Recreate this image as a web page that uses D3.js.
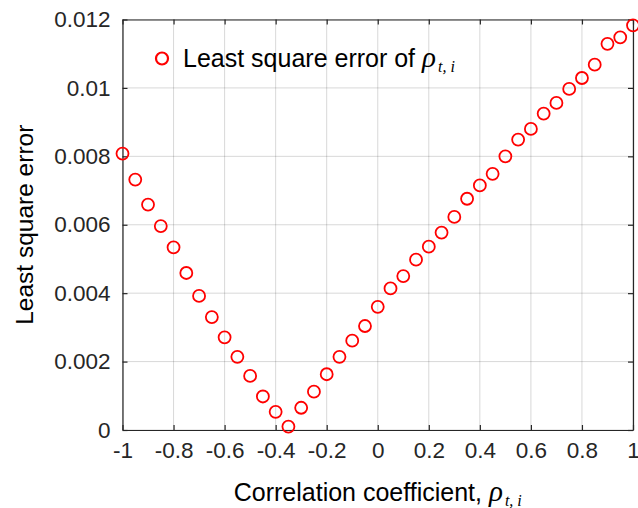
<!DOCTYPE html>
<html>
<head>
<meta charset="utf-8">
<script src="https://cdn.jsdelivr.net/npm/d3@7"></script>
<style>
  html, body { margin: 0; padding: 0; background: #fff; }
  svg { display: block; }
  text { font-family: "Liberation Sans", Arial, sans-serif; }
</style>
</head>
<body>
<svg id="chart" width="638" height="508"></svg>
<script>
// Correlation coefficient values (x)
const rho = [-1, -0.95, -0.9, -0.85, -0.8, -0.75, -0.7, -0.65, -0.6, -0.55, -0.5, -0.45, -0.4, -0.35, -0.3, -0.25, -0.2, -0.15, -0.1, -0.05, 0,
             0.05, 0.1, 0.15, 0.2, 0.25, 0.3, 0.35, 0.4, 0.45, 0.5, 0.55, 0.6, 0.65, 0.7, 0.75, 0.8, 0.85, 0.9, 0.95, 1];
// Least square error values (y)
const lse = [0.00808, 0.00732, 0.00659, 0.00596, 0.00534, 0.00459, 0.00392, 0.00330, 0.00271, 0.00214, 0.00158, 0.00098, 0.00053, 0.00010,
             0.00065, 0.00112, 0.00163, 0.00214, 0.00261, 0.00304, 0.00360,
             0.00414, 0.00450, 0.00498, 0.00536, 0.00577, 0.00623, 0.00676, 0.00715, 0.00749, 0.00800,
             0.00849, 0.00880, 0.00925, 0.00956, 0.00997, 0.01029, 0.01068, 0.01129, 0.01148, 0.01183];
const xTicks = [-1, -0.8, -0.6, -0.4, -0.2, 0, 0.2, 0.4, 0.6, 0.8, 1];
const xTickLabels = ["-1", "-0.8", "-0.6", "-0.4", "-0.2", "0", "0.2", "0.4", "0.6", "0.8", "1"];
const yTicks = [0, 0.002, 0.004, 0.006, 0.008, 0.01, 0.012];
const yTickLabels = ["0", "0.002", "0.004", "0.006", "0.008", "0.01", "0.012"];

const svg = d3.select("#chart");
const L = 122.5, R = 633, T = 19.5, B = 430;
const x = d3.scaleLinear().domain([-1, 1]).range([L, R]);
const y = d3.scaleLinear().domain([0, 0.012]).range([B, T]);
const axisCol = "#262626";

// grid
const grid = svg.append("g");
grid.selectAll("line.gx").data(xTicks).join("line")
  .attr("x1", d => x(d)).attr("x2", d => x(d)).attr("y1", T).attr("y2", B)
  .attr("stroke", "rgba(38,38,38,0.18)").attr("stroke-width", 1);
grid.selectAll("line.gy").data(yTicks).join("line")
  .attr("y1", d => y(d)).attr("y2", d => y(d)).attr("x1", L).attr("x2", R)
  .attr("stroke", "rgba(38,38,38,0.18)").attr("stroke-width", 1);

// axes (inward ticks, MATLAB style)
const tickLen = 5;
const xAxisB = d3.axisBottom(x).tickValues(xTicks).tickFormat((d, i) => xTickLabels[i]).tickSizeInner(-tickLen).tickSizeOuter(0).tickPadding(12);
const xAxisT = d3.axisTop(x).tickValues(xTicks).tickFormat("").tickSizeInner(-tickLen).tickSizeOuter(0);
const yAxisL = d3.axisLeft(y).tickValues(yTicks).tickFormat((d, i) => yTickLabels[i]).tickSizeInner(-tickLen).tickSizeOuter(0).tickPadding(12);
const yAxisR = d3.axisRight(y).tickValues(yTicks).tickFormat("").tickSizeInner(-tickLen).tickSizeOuter(0);

function style(g) {
  g.selectAll("path.domain").attr("stroke", axisCol).attr("stroke-width", 1.2);
  g.selectAll(".tick line").attr("stroke", axisCol).attr("stroke-width", 1.2);
  g.selectAll(".tick text").attr("fill", axisCol).style("font-size", "22.5px")
    .style("font-family", "'Liberation Sans', Arial, sans-serif");
}
svg.append("g").attr("transform", `translate(0,${B})`).call(xAxisB).call(style);
svg.append("g").attr("transform", `translate(0,${T})`).call(xAxisT).call(style);
svg.append("g").attr("transform", `translate(${L},0)`).call(yAxisL).call(style);
svg.append("g").attr("transform", `translate(${R},0)`).call(yAxisR).call(style);

// points
svg.append("g").selectAll("circle").data(rho).join("circle")
  .attr("cx", d => x(d)).attr("cy", (d, i) => y(lse[i]))
  .attr("r", 6).attr("fill", "none").attr("stroke", "#ff0000").attr("stroke-width", 1.8);

// legend
const leg = svg.append("g");
leg.append("circle").attr("cx", 162).attr("cy", 58.5).attr("r", 6)
  .attr("fill", "none").attr("stroke", "#ff0000").attr("stroke-width", 2.2);
const lt = leg.append("text").attr("x", 183).attr("y", 67).attr("fill", "#000").style("font-size", "25px");
lt.append("tspan").text("Least square error of ");
lt.append("tspan").text("ρ").style("font-family", "'Liberation Serif', serif").style("font-style", "italic").style("font-size", "29px");
lt.append("tspan").text("t, i").attr("dx", 2).attr("dy", 5).style("font-family", "'Liberation Serif', serif").style("font-style", "italic").style("font-size", "16px").attr("xml:space", "preserve");

// x label
const xl = svg.append("text").attr("x", (L + R) / 2).attr("y", 501).attr("text-anchor", "middle")
  .attr("fill", "#000").style("font-size", "25px");
xl.append("tspan").text("Correlation coefficient, ");
xl.append("tspan").text("ρ").style("font-family", "'Liberation Serif', serif").style("font-style", "italic").style("font-size", "29px");
xl.append("tspan").text("t, i").attr("dx", 2).attr("dy", 5).style("font-family", "'Liberation Serif', serif").style("font-style", "italic").style("font-size", "16px");

// y label
svg.append("text").attr("transform", `translate(33,${(T + B) / 2}) rotate(-90)`)
  .attr("text-anchor", "middle").attr("fill", "#000").style("font-size", "24.5px")
  .text("Least square error");
</script>
</body>
</html>
